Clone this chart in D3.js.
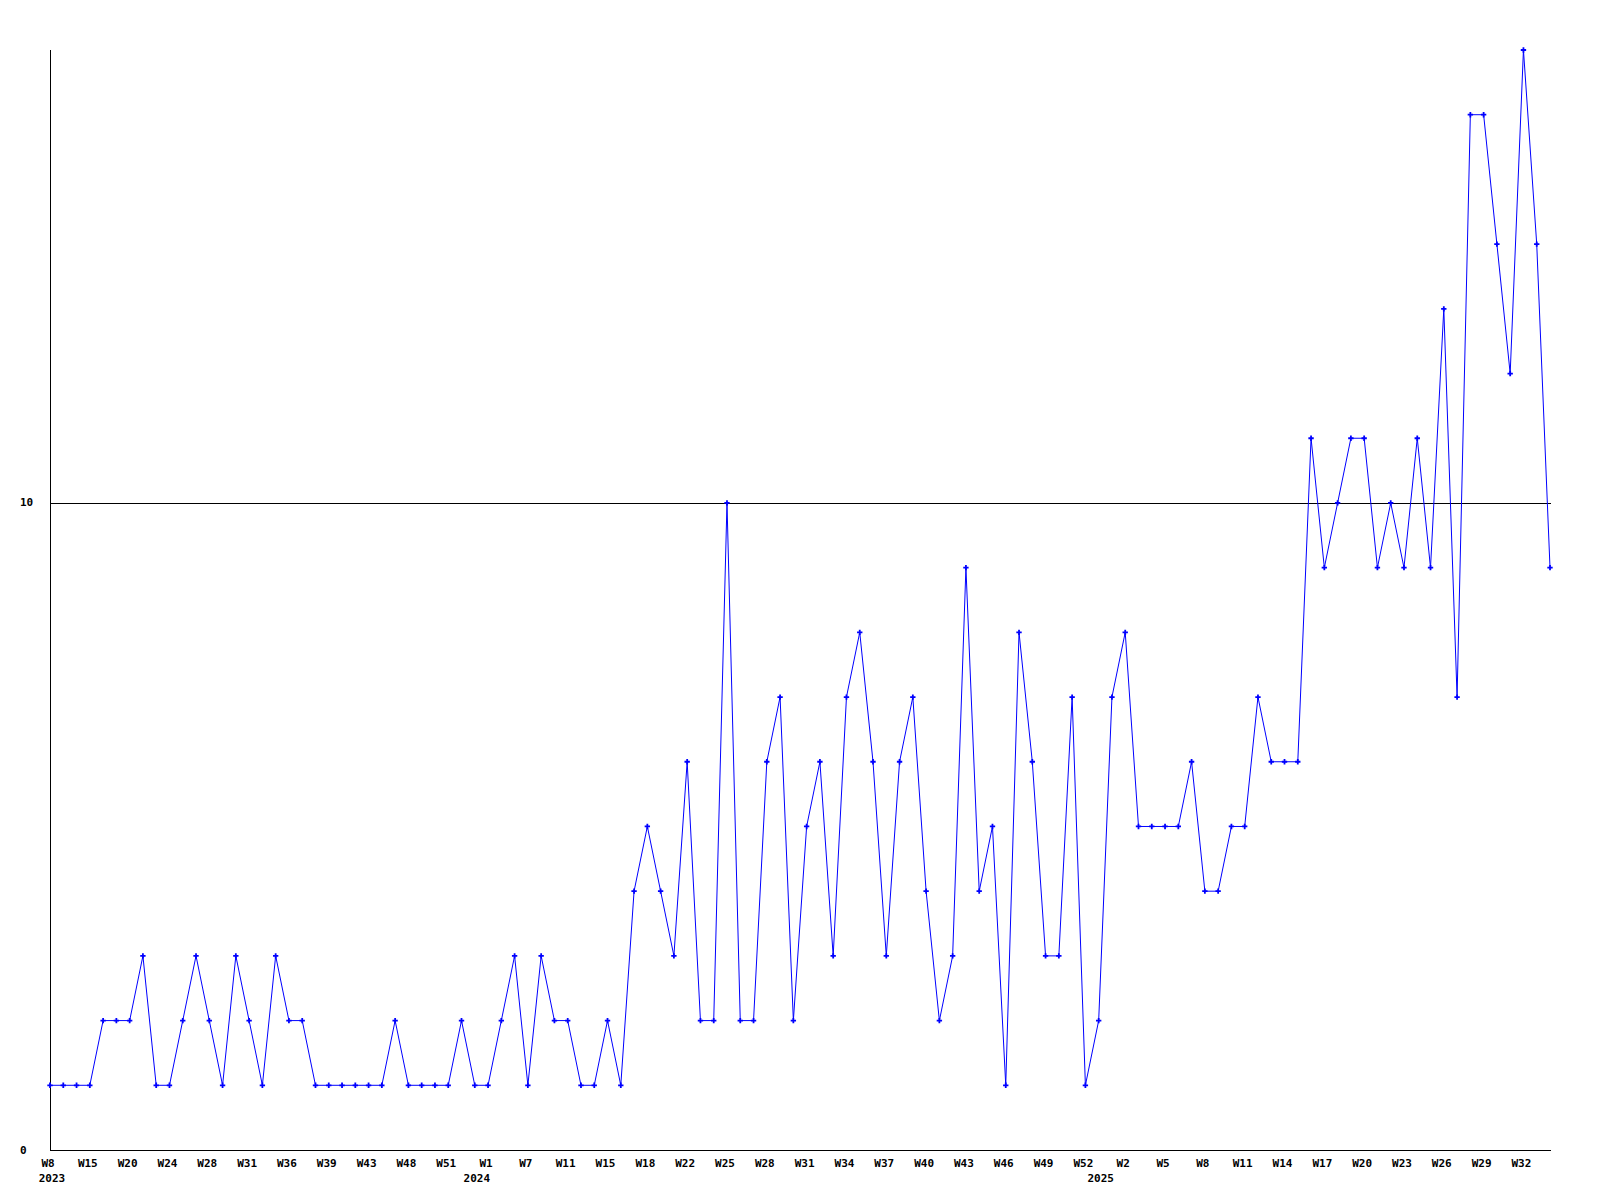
<!DOCTYPE html>
<html>
<head>
<meta charset="utf-8">
<script src="https://cdn.jsdelivr.net/npm/d3@7"></script>
<style>
  html, body { margin: 0; padding: 0; background: #fff; }
  svg { display: block; }
  text { font-family: "DejaVu Sans Mono", "Liberation Mono", monospace; font-weight: bold; font-size: 11px; fill: #000; }
</style>
</head>
<body>
<svg id="chart" width="1600" height="1200"></svg>
<script>
// Weekly values, one per data point (2023 W8 … 2025 W34)
const values = [
  1,1,1,1,2,2,2,3,1,1,
  2,3,2,1,3,2,1,3,2,2,
  1,1,1,1,1,1,2,1,1,1,
  1,2,1,1,2,3,1,3,2,2,
  1,1,2,1,4,5,4,3,6,2,
  2,10,2,2,6,7,2,5,6,3,
  7,8,6,3,6,7,4,2,3,9,
  4,5,1,8,6,3,3,7,1,2,
  7,8,5,5,5,5,6,4,4,5,
  5,7,6,6,6,11,9,10,11,11,
  9,10,9,11,9,13,7,16,16,14,
  12,17,14,9
];

// Week labels shown on the x axis (every third data point)
const tickLabels = [
  "W8","W15","W20","W24","W28","W31","W36","W39","W43","W48","W51","W1","W7",
  "W11","W15","W18","W22","W25","W28","W31","W34","W37","W40","W43","W46","W49",
  "W52","W2","W5","W8","W11","W14","W17","W20","W23","W26","W29","W32"
];
const tickStep = 3;

// Year labels: year and index of its first data point
const yearNames = ["2023", "2024", "2025"];
const yearStarts = [0, 32, 79];

// Y axis labelled values
const yTicks = [0, 10];
const yMax = 17;

const svg = d3.select("#chart");
const x = d3.scaleLinear().domain([0, values.length - 1]).range([50, 1550]);
const y = d3.scaleLinear().domain([0, yMax]).range([1150, 50]);

// gridline at 10
svg.append("g").selectAll("line").data(yTicks.filter(d => d > 0)).join("line")
  .attr("x1", x(0)).attr("x2", x(values.length - 1) + 1)
  .attr("y1", d => Math.round(y(d)) + 0.5).attr("y2", d => Math.round(y(d)) + 0.5)
  .attr("stroke", "#000").attr("stroke-width", 1).attr("shape-rendering", "crispEdges");

// axes lines
svg.append("line")
  .attr("x1", x(0) + 0.5).attr("x2", x(0) + 0.5)
  .attr("y1", y(yMax)).attr("y2", y(0) + 1)
  .attr("stroke", "#000").attr("shape-rendering", "crispEdges");
svg.append("line")
  .attr("x1", x(0)).attr("x2", x(values.length - 1) + 1)
  .attr("y1", y(0) + 0.5).attr("y2", y(0) + 0.5)
  .attr("stroke", "#000").attr("shape-rendering", "crispEdges");

// y labels
svg.append("g").selectAll("text").data(yTicks).join("text")
  .attr("x", 20).attr("y", d => y(d))
  .attr("dominant-baseline", "central")
  .text(d => d);

// x week labels
svg.append("g").selectAll("text").data(tickLabels).join("text")
  .attr("x", (d, i) => x(i * tickStep) - 2)
  .attr("y", 1163)
  .attr("text-anchor", "middle")
  .attr("dominant-baseline", "central")
  .text(d => d);

// year labels
svg.append("g").selectAll("text").data(yearNames).join("text")
  .attr("x", (d, i) => x(yearStarts[i]) + 2)
  .attr("y", 1178)
  .attr("text-anchor", "middle")
  .attr("dominant-baseline", "central")
  .text(d => d);

// line
const line = d3.line().x((d, i) => x(i)).y(d => y(d));
svg.append("path").datum(values)
  .attr("d", line)
  .attr("fill", "none")
  .attr("stroke", "#0000ff")
  .attr("stroke-width", 1);

// markers
svg.append("g").selectAll("path").data(values).join("path")
  .attr("transform", (d, i) => `translate(${x(i)},${y(d)})`)
  .attr("d", d3.symbol().type(d3.symbolCross).size(16))
  .attr("fill", "#0000ff");
</script>
</body>
</html>
